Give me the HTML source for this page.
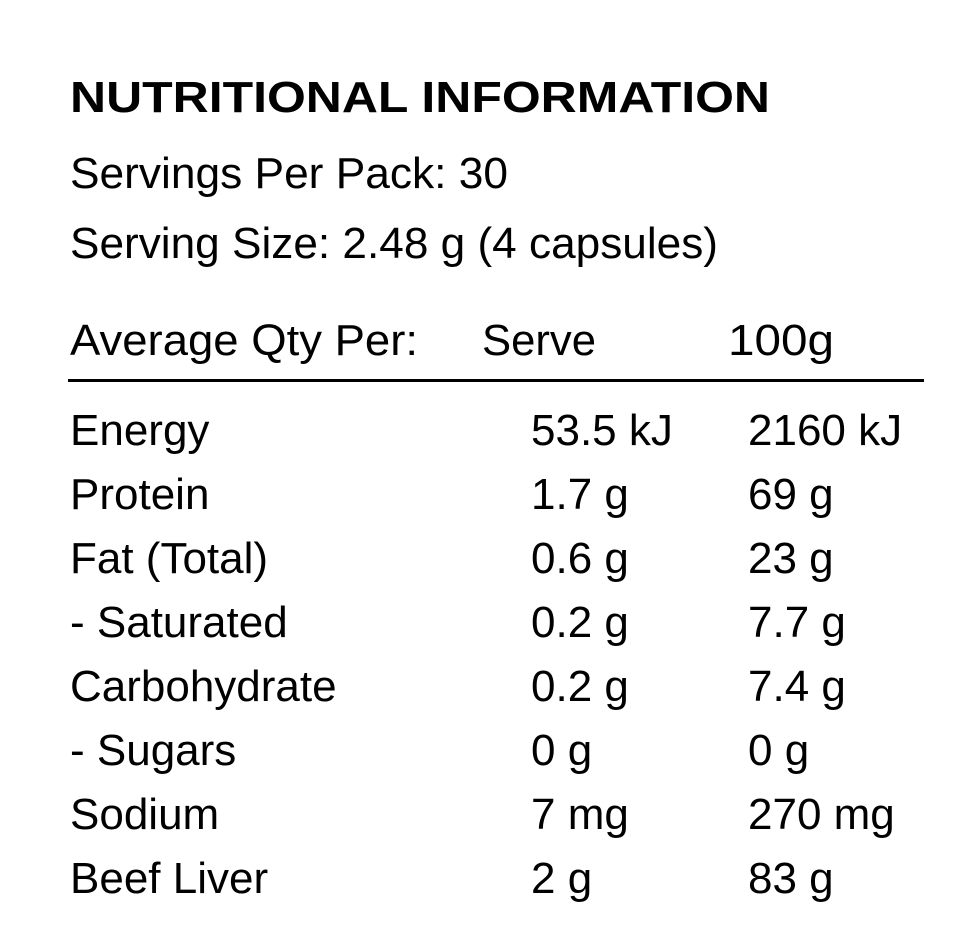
<!DOCTYPE html>
<html><head><meta charset="utf-8"><style>
html,body{margin:0;padding:0;background:#fff;}
svg{display:block;}
text{font-family:"Liberation Sans",sans-serif;fill:#000;font-size:44px;}
</style></head><body>
<svg width="980" height="940" viewBox="0 0 980 940">
<text x="70" y="112" font-weight="bold" font-size="46" textLength="700" lengthAdjust="spacingAndGlyphs">NUTRITIONAL INFORMATION</text>
<text x="70" y="188" textLength="438" lengthAdjust="spacingAndGlyphs">Servings Per Pack: 30</text>
<text x="70" y="258" textLength="648" lengthAdjust="spacingAndGlyphs">Serving Size: 2.48 g (4 capsules)</text>
<text x="70" y="355" textLength="348" lengthAdjust="spacingAndGlyphs">Average Qty Per:</text>
<text x="482" y="355" textLength="114" lengthAdjust="spacingAndGlyphs">Serve</text>
<text x="728" y="355" textLength="106" lengthAdjust="spacingAndGlyphs">100g</text>
<rect x="68" y="379" width="856" height="3" fill="#000"/>
<g>
<text x="70" y="445">Energy</text>
<text x="531" y="445">53.5 kJ</text>
<text x="748" y="445">2160 kJ</text>
<text x="70" y="509">Protein</text>
<text x="531" y="509">1.7 g</text>
<text x="748" y="509">69 g</text>
<text x="70" y="573">Fat (Total)</text>
<text x="531" y="573">0.6 g</text>
<text x="748" y="573">23 g</text>
<text x="70" y="637">- Saturated</text>
<text x="531" y="637">0.2 g</text>
<text x="748" y="637">7.7 g</text>
<text x="70" y="701">Carbohydrate</text>
<text x="531" y="701">0.2 g</text>
<text x="748" y="701">7.4 g</text>
<text x="70" y="765">- Sugars</text>
<text x="531" y="765">0 g</text>
<text x="748" y="765">0 g</text>
<text x="70" y="829">Sodium</text>
<text x="531" y="829">7 mg</text>
<text x="748" y="829">270 mg</text>
<text x="70" y="893">Beef Liver</text>
<text x="531" y="893">2 g</text>
<text x="748" y="893">83 g</text>
</g>
</svg>
</body></html>
